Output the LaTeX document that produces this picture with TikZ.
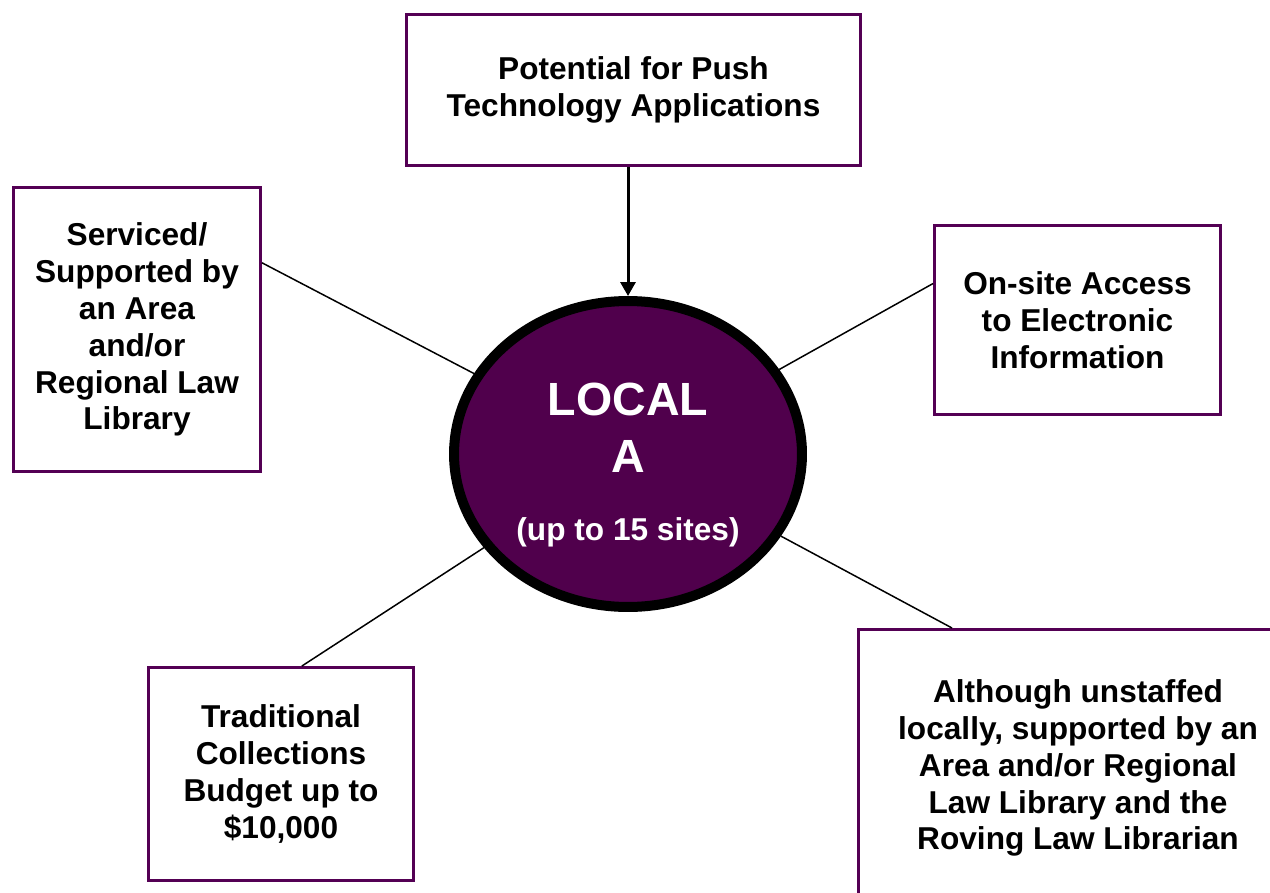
\documentclass[tikz,border=0pt]{standalone}
\usepackage{fontspec}
\setmainfont{Liberation Sans}
\usepackage{tikz}
\usetikzlibrary{shapes.geometric, calc, arrows.meta}
\definecolor{lawpurple}{RGB}{84,0,84}
\definecolor{hubpurple}{RGB}{80,0,76}
\newcommand{\boxfont}{\fontsize{18}{21}\selectfont\bfseries}
\newcommand{\hubfont}{\fontsize{26.5}{32.4}\selectfont\bfseries}

\begin{document}
\begin{tikzpicture}[x=0.02cm, y=-0.02cm,
	infobox/.style={rectangle, draw=lawpurple, line width=0.06cm, align=center, font=\boxfont, inner sep=0pt},
	hub/.style={ellipse, draw=black, line width=0.2cm, fill=hubpurple, minimum width=6.96cm, minimum height=6.12cm},
	hubtext/.style={align=center, text=white, font=\hubfont, inner sep=0pt},
	link/.style={line width=0.85pt}]
	\useasboundingbox (0,0) rectangle (1270,892);
	\clip (0,0) rectangle (1270,892);
	%% centre
	\node[hub] (loc) at (628,454) {};
	\node[hubtext] (loctext) at (628,465) {LOCAL\\A\\[6.6pt]{\boxfont (up to 15 sites)}};
	%% boxes round it
	\node[infobox, minimum width=9.08cm, minimum height=3.02cm] (push) at (633.5,90) {Potential for Push\\Technology Applications};
	\node[infobox, minimum width=4.94cm, minimum height=5.68cm] (srv) at (137,329.5) {Serviced/\\Supported by\\an Area\\and/or\\Regional Law\\Library};
	\node[infobox, minimum width=5.72cm, minimum height=3.78cm] (acc) at (1077.5,320) {On-site Access\\to Electronic\\Information};
	\node[infobox, minimum width=5.3cm, minimum height=4.26cm] (bud) at (281,774) {Traditional\\Collections\\Budget up to\\\$10,000};
	\node[infobox, minimum width=8.78cm, minimum height=5.54cm] (unst) at (1078,768) {Although unstaffed\\locally, supported by an\\Area and/or Regional\\Law Library and the\\Roving Law Librarian};
	%% connectors
	\draw[line width=0.06cm, -{Triangle[length=0.28cm, width=0.3cm]}] (push.south -| loc) -- (loc);
	\draw[link] (loc) -- ($(srv.north east)!0.535!(srv.east)$);
	\draw[link] (loc) -- ($(acc.north west)!0.31!(acc.south west)$);
	\draw[link] (loc) -- ($(bud.north west)!0.578!(bud.north east)$);
	\draw[link] (loc) -- ($(unst.north west)+(95,0)$);
\end{tikzpicture}
\end{document}
